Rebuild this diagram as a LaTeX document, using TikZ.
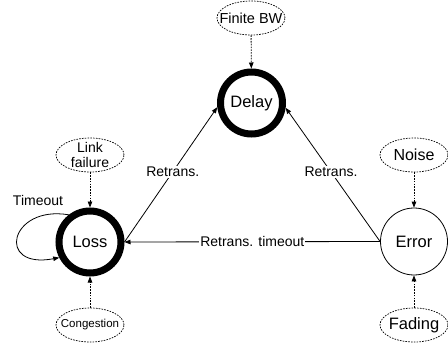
\documentclass[tikz,border=0pt]{standalone}
\usepackage{fontspec}
\setmainfont{Liberation Sans}
\usetikzlibrary{arrows.meta,shapes.geometric}

\begin{document}
\begin{tikzpicture}[x=1pt,y=1pt,
    state/.style={circle,draw,line width=7pt,minimum size=62pt,inner sep=0pt,font=\fontsize{16.5}{18}\selectfont},
    thinstate/.style={circle,draw,line width=0.8pt,minimum size=67pt,inner sep=0pt,font=\fontsize{16.5}{18}\selectfont},
    cause/.style={ellipse,draw,dashed,dash pattern=on 1.6pt off 1.2pt,line width=0.7pt,inner sep=-10pt,minimum width=68pt,minimum height=34pt,align=center},
    arr/.style={-{Triangle[length=6pt,width=4.5pt]},line width=0.8pt},
    darr/.style={arr,dashed,dash pattern=on 1.6pt off 1.2pt},
    lbl/.style={fill=white,inner sep=1pt,font=\fontsize{14}{16}\selectfont}]

      \useasboundingbox (0,0) rectangle (448,349);

      \node[state] (delay) at (251.5,246) {Delay};
      \node[state] (loss) at (90,107) {Loss};
      \node[thinstate] (error) at (414,107.5) {Error};

      \node[cause,font=\fontsize{14.5}{16}\selectfont] (finitebw) at (251,331) {Finite BW};
      \node[cause,font=\fontsize{14}{15}\selectfont] (linkfail) at (90,194) {Link\\failure};
      \node[cause,font=\fontsize{11.5}{13}\selectfont] (congestion) at (90,24) {Congestion};
      \node[cause,font=\fontsize{16}{18}\selectfont] (noise) at (414,194) {Noise};
      \node[cause,font=\fontsize{16.5}{18}\selectfont] (fading) at (414,24) {Fading};

      \draw[darr] (finitebw) -- (delay);
      \draw[darr] (linkfail) -- (loss);
      \draw[darr] (congestion) -- (loss);
      \draw[darr] (noise) -- (error);
      \draw[darr] (fading) -- (error);

      \draw[arr] (loss.east) -- node[lbl,pos=0.52] {Retrans.} (delay.187);
      \draw[arr] (error.west) -- node[lbl,pos=0.52] {Retrans.} (delay.352);
      \draw[arr] (error.west) -- node[lbl] {Retrans. timeout} (loss.east);

      \node[font=\fontsize{14}{16}\selectfont] (timeout) at (38,149) {Timeout};
      \draw[arr] (loss.128) .. controls +(-59,10) and +(-64,-12) .. (loss.207);
    \end{tikzpicture}
\end{document}
